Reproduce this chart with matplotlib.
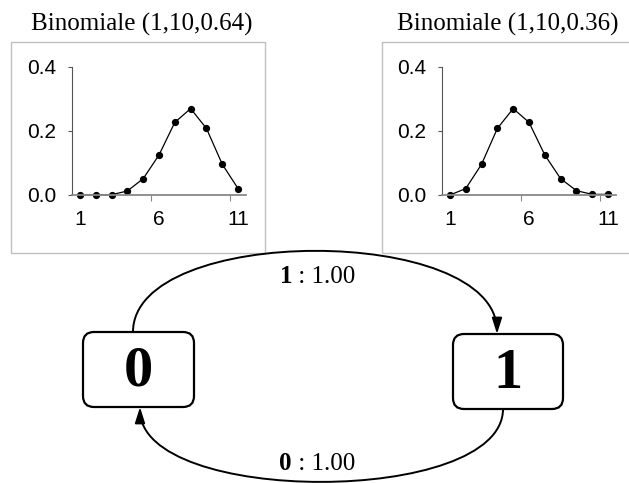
import matplotlib
matplotlib.use("Agg")
import matplotlib.pyplot as plt
from matplotlib.patches import FancyArrowPatch, FancyBboxPatch, Rectangle
from matplotlib.path import Path

# ---- data ----
k = list(range(1, 12))
p_left = [0.0, 0.0, 0.001, 0.0125, 0.051, 0.125, 0.227, 0.27, 0.208, 0.096, 0.02]
p_right = [0.0, 0.02, 0.096, 0.208, 0.27, 0.227, 0.125, 0.051, 0.0135, 0.002, 0.002]
titles = ["Binomiale (1,10,0.64)", "Binomiale (1,10,0.36)"]
yticks = [0.0, 0.2, 0.4]
xlabels = [1, 6, 11]
states = ["0", "1"]
edge_from = ["1", "0"]
edge_prob = ["1.00", "1.00"]

W, H = 629, 483
SERIF = "Liberation Serif"
SANS = "Liberation Sans"

plt.rcParams["font.family"] = SANS

fig = plt.figure(figsize=(W / 100, H / 100), dpi=100)
fig.patch.set_facecolor("white")

# background axes in pixel units (y down) for the state diagram
bg = fig.add_axes([0, 0, 1, 1])
bg.set_xlim(0, W)
bg.set_ylim(H, 0)
bg.axis("off")

# panel frames and titles
frames = [(11, 42, 254, 211), (382, 42, 260, 211)]
title_x = [142, 508]
for (fx, fy, fw, fh), tx, t in zip(frames, title_x, titles):
    bg.add_patch(Rectangle((fx, fy), fw, fh, fill=False, ec="#c0c0c0", lw=1.0))
    bg.text(tx, 31, t, ha="center", va="baseline", fontsize=18, family=SERIF)

# small binomial plots
ax_left_px = [72, 442]
for x0, vals in zip(ax_left_px, [p_left, p_right]):
    ax = fig.add_axes([x0 / W, (H - 195) / H, 174 / W, 128 / H])
    ax.patch.set_alpha(0)
    ax.plot(k, vals, color="black", lw=0.9, marker="o", ms=4.2, clip_on=False)
    ax.set_xlim(0.5, 11.5)
    ax.set_ylim(0, 0.4)
    for s in ["top", "right"]:
        ax.spines[s].set_visible(False)
    ax.spines["left"].set_color("#555555")
    ax.spines["left"].set_linewidth(0.8)
    ax.spines["bottom"].set_color("#888888")
    ax.spines["bottom"].set_linewidth(1.3)
    ax.set_yticks(yticks)
    ax.set_yticklabels([f"{v:.1f}" for v in yticks], fontsize=15)
    ax.tick_params(axis="y", length=3, width=0.8, color="#555555", pad=8.5)
    ax.set_xticks(xlabels)
    ax.set_xticklabels([str(v) for v in xlabels], fontsize=15)
    ax.tick_params(axis="x", which="major", length=0, pad=11)
    ax.set_xticks([5.5, 10.5], minor=True)
    ax.tick_params(axis="x", which="minor", length=4, width=0.8, color="#888888")

# state boxes
boxes = [(83, 332, 111, 75), (453, 334, 110, 75)]
for (bx, by, bw, bh), s in zip(boxes, states):
    bg.add_patch(FancyBboxPatch((bx, by), bw, bh,
                                boxstyle="round,pad=0,rounding_size=11",
                                fc="white", ec="black", lw=1.6))
    bg.text(bx + bw / 2, by + bh / 2 + 2, s, ha="center", va="center",
            fontsize=42, fontweight="bold", family=SERIF)

# transitions
arcs = [
    [(133, 332), (133, 224), (497, 224), (497, 334)],
    [(503, 409), (503, 506), (140, 506), (140, 407)],
]
label_pos = [(292, 283), (292, 470)]
for pts, (lx, ly), a, p in zip(arcs, label_pos, edge_from, edge_prob):
    path = Path(pts, [Path.MOVETO, Path.CURVE4, Path.CURVE4, Path.CURVE4])
    bg.add_patch(FancyArrowPatch(path=path,
                                 arrowstyle="-|>,head_length=0.95,head_width=0.3",
                                 mutation_scale=10, color="black", lw=1.4))
    bg.text(lx, ly, a, ha="right", va="baseline", fontsize=18,
            fontweight="bold", family=SERIF)
    bg.text(lx, ly, " : " + p, ha="left", va="baseline", fontsize=18,
            family=SERIF)

fig.savefig("out.png", dpi=100)
